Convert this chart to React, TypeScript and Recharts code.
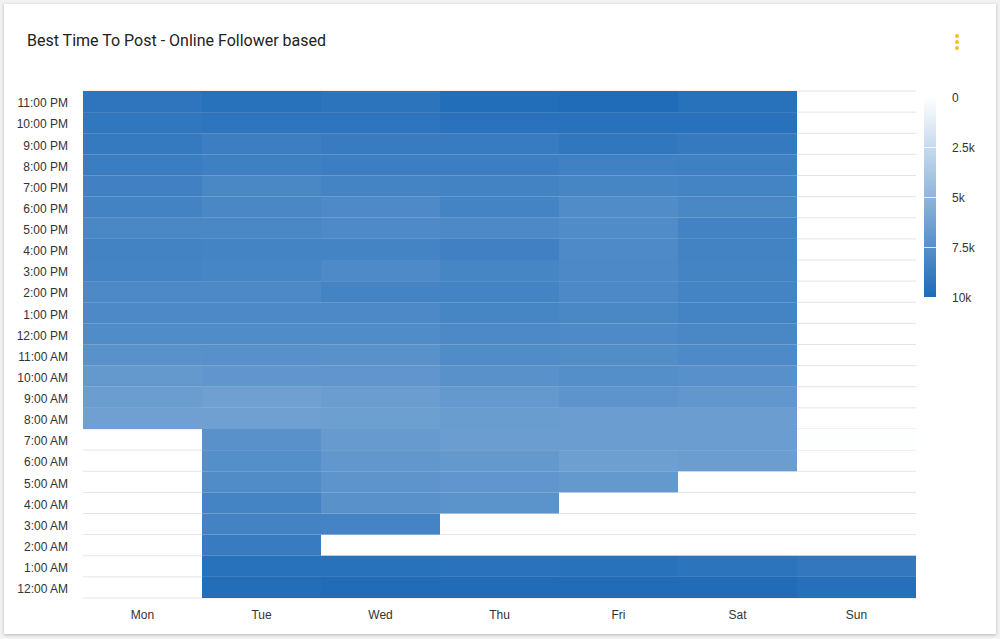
import React from "react";
import { ScatterChart, Scatter, XAxis, YAxis, CartesianGrid } from "recharts";

const days = ["Mon", "Tue", "Wed", "Thu", "Fri", "Sat", "Sun"];
const hours = [
  "12:00 AM", "1:00 AM", "2:00 AM", "3:00 AM", "4:00 AM", "5:00 AM", "6:00 AM", "7:00 AM",
  "8:00 AM", "9:00 AM", "10:00 AM", "11:00 AM", "12:00 PM", "1:00 PM", "2:00 PM", "3:00 PM",
  "4:00 PM", "5:00 PM", "6:00 PM", "7:00 PM", "8:00 PM", "9:00 PM", "10:00 PM", "11:00 PM",
];

// values per day, index 0 = 12:00 AM ... 23 = 11:00 PM
const monValues = [0, 0, 0, 0, 0, 0, 0, 0, 6400, 6600, 6900, 7400, 7800, 8000, 8000, 8300, 8400, 8100, 8400, 8500, 8800, 9000, 9200, 9300];
const tueValues = [9800, 9600, 8900, 8400, 8300, 7800, 7600, 7400, 6400, 6400, 7100, 7500, 7800, 8000, 8000, 8200, 8300, 8100, 8100, 8100, 8600, 8700, 9300, 9600];
const wedValues = [9900, 9600, 0, 8300, 7400, 7200, 7000, 6800, 6500, 6600, 7100, 7400, 7800, 8000, 8300, 7900, 8300, 7900, 7900, 8300, 8700, 8900, 9300, 9400];
const thuValues = [9900, 9500, 0, 0, 7300, 7100, 6900, 6600, 6700, 6900, 7400, 7800, 8000, 8200, 8300, 8200, 8500, 8000, 8300, 8400, 8700, 8900, 9500, 9800];
const friValues = [9900, 9600, 0, 0, 0, 6900, 6500, 6600, 6600, 7200, 7600, 7700, 7900, 8100, 8000, 8000, 7900, 7800, 7800, 8200, 8500, 9200, 9600, 9900];
const satValues = [9900, 9400, 0, 0, 0, 0, 6600, 6600, 6600, 7000, 7500, 7900, 8100, 8300, 8300, 8300, 8400, 8400, 8100, 8300, 8600, 9000, 9600, 9600];
const sunValues = [9700, 9100, 0, 0, 0, 0, 0, 80, 0, 0, 0, 0, 0, 0, 0, 0, 0, 0, 0, 0, 0, 0, 0, 0];

const legendLabels = ["0", "2.5k", "5k", "7.5k", "10k"];
const MAX_VALUE = 10000;

const allDays = [monValues, tueValues, wedValues, thuValues, friValues, satValues, sunValues];

const points = allDays.flatMap((vals, d) => vals.map((v, h) => ({ x: d, y: h, v })));

const MIN_C = [255, 255, 255];
const MAX_C = [31, 107, 184];
const colorFor = (v: number) => {
  const t = Math.max(0, Math.min(1, v / MAX_VALUE));
  const c = MIN_C.map((m, i) => Math.round(m + (MAX_C[i] - m) * t));
  return `rgb(${c[0]},${c[1]},${c[2]})`;
};

const W = 1000;
const H = 639;
const M = { top: 91, right: 84, left: 0, bottom: 11 };
const Y_W = 83;
const X_H = 30;
const PLOT_W = W - M.left - M.right - Y_W;
const PLOT_H = H - M.top - M.bottom - X_H;
const CELL_W = PLOT_W / days.length;
const CELL_H = PLOT_H / hours.length;

const CellShape = (props: any) => {
  const { cx, cy, payload } = props;
  if (!payload || payload.v <= 0) return <g />;
  return (
    <rect
      x={cx - CELL_W / 2}
      y={cy - CELL_H / 2}
      width={CELL_W}
      height={CELL_H}
      fill={colorFor(payload.v)}
      stroke="none"
    />
  );
};

const gridGen = (p: any) => {
  const top = p && p.offset && typeof p.offset.top === "number" ? p.offset.top : M.top;
  const h = p && p.offset && typeof p.offset.height === "number" ? p.offset.height : PLOT_H;
  return Array.from({ length: hours.length + 1 }, (_, i) => top + (i * h) / hours.length);
};

const font = "'Liberation Sans', Arial, sans-serif";

export default function App() {
  const gradStops = [0, 0.25, 0.5, 0.75, 1];
  return (
    <div style={{ position: "absolute", left: 0, top: 0, width: W, height: H, background: "#f2f2f2", fontFamily: font }}>
      <div
        style={{
          position: "absolute",
          left: 4,
          top: 4,
          width: 992,
          height: 630,
          background: "#fff",
          boxShadow: "0 1px 3px rgba(0,0,0,0.25)",
        }}
      />
      <div
        style={{
          position: "absolute",
          left: 27,
          top: 31,
          fontSize: 16,
          fontFamily: "Roboto, 'Liberation Sans', sans-serif",
          color: "#222",
        }}
      >
        Best Time To Post - Online Follower based
      </div>
      {[35.5, 41.5, 47.5].map((y) => (
        <div
          key={y}
          style={{
            position: "absolute",
            left: 955,
            top: y - 2,
            width: 4,
            height: 4,
            borderRadius: 2,
            background: "#f5bd2e",
          }}
        />
      ))}
      <div style={{ position: "absolute", left: 0, top: 0 }}>
        <ScatterChart width={W} height={H} margin={M}>
          <CartesianGrid vertical={false} stroke="#e4e4e4" horizontalCoordinatesGenerator={gridGen} />
          <XAxis
            type="number"
            dataKey="x"
            domain={[-0.5, days.length - 0.5]}
            ticks={days.map((_, i) => i)}
            tickFormatter={(v: number) => days[v]}
            axisLine={false}
            tickLine={false}
            tickMargin={6}
            height={X_H}
            interval={0}
            tick={{ fontSize: 12, fill: "#333", fontFamily: font }}
          />
          <YAxis
            type="number"
            dataKey="y"
            domain={[-0.5, hours.length - 0.5]}
            ticks={hours.map((_, i) => i)}
            tickFormatter={(v: number) => hours[v]}
            axisLine={false}
            tickLine={false}
            tickMargin={9}
            width={Y_W}
            interval={0}
            tick={{ fontSize: 12, fill: "#333", fontFamily: font, dy: 1.5 }}
          />
          <Scatter data={points} shape={CellShape} isAnimationActive={false} />
        </ScatterChart>
      </div>
      <div
        style={{
          position: "absolute",
          left: 924,
          top: 97,
          width: 12,
          height: 200,
          background: `linear-gradient(to bottom, ${colorFor(0)}, ${colorFor(MAX_VALUE)})`,
        }}
      />
      {gradStops.slice(1, 4).map((s) => (
        <div
          key={s}
          style={{ position: "absolute", left: 924, top: 97 + s * 200, width: 12, height: 1, background: "rgba(255,255,255,0.8)" }}
        />
      ))}
      {legendLabels.map((l, i) => (
        <div
          key={l}
          style={{
            position: "absolute",
            left: 952,
            top: 97 + gradStops[i] * 200 - 7,
            fontSize: 12,
            lineHeight: "16px",
            color: "#333",
          }}
        >
          {l}
        </div>
      ))}
    </div>
  );
}
